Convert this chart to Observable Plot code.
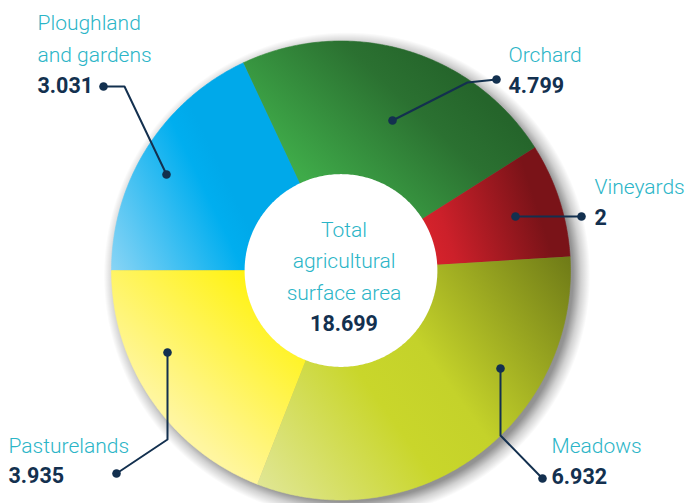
<!DOCTYPE html>
<html>
<head>
<meta charset="utf-8">
<script src="https://cdn.jsdelivr.net/npm/d3@7"></script>
<script src="https://cdn.jsdelivr.net/npm/@observablehq/plot@0.6"></script>
<style>
  html, body { margin: 0; padding: 0; background: #ffffff; }
  #chart { width: 690px; height: 503px; }
</style>
</head>
<body>
<div id="chart"></div>
<script>
// ---------------- DATA ----------------
const categories = ["Ploughland\nand gardens", "Orchard", "Vineyards", "Meadows", "Pasturelands"];
const values = [3.031, 4.799, 2, 6.932, 3.935];
// slice sizes as drawn in the picture (degrees)
const sliceShares = [64.8, 82.8, 28.9, 114.9, 68.6];
const totalLines = "Total\nagricultural\nsurface area";
const totalValue = 18.699;

// ---------------- STYLE / LAYOUT ----------------
const W = 690, H = 503;
const CX = 340.5, CY = 270, RPX = 229.5;     // ring centre and radius in pixels
const INNER = 0.418;                          // inner radius (fraction of outer)
const START = 270;                            // first slice starts at 9 o'clock, clockwise
const SHADOW_R = 1.06;                        // soft shadow extent (fraction of outer radius)
// per-slice shading: gradient vector (unit coords) and colour stops
const shading = [
  {from: [-1.0, -0.15], to: [-0.38, 0.15], stops: [[0, "#9ad9f6"], [0.85, "#00aeef"], [1, "#00a9ea"]]},
  {from: [-0.3, 0.3],   to: [0.35, 1.0],   stops: [[0, "#41ae4b"], [0.18, "#3fab49"], [0.75, "#2b7131"], [1, "#25652b"]]},
  {from: [0.42, 0.05],  to: [0.88, 0.2],   stops: [[0, "#d4222b"], [0.15, "#cc202a"], [1, "#7a1318"]]},
  {from: [-0.45, -1.0], to: [1.0, 0.05],   stops: [[0, "#e4e9a6"], [0.42, "#c9d62b"], [0.58, "#c4d22a"], [1, "#6f7b17"]]},
  {from: [-1.0, -0.75], to: [-0.3, 0.0],   stops: [[0, "#fffab9"], [0.25, "#fff6a0"], [1, "#fff200"]]}
];
const labelColor = "#2bb5c7", valueColor = "#13304f";
const FONT = "Roboto, 'Noto Sans', sans-serif";
// annotation placement in pixels: label x, label-baseline, value-baseline, leader polyline
const labelLayout = [
  {x: 37,  ly: 61,  vy: 92,  leader: [[103, 86], [124, 86], [166, 174]]},
  {x: 508, ly: 61,  vy: 92,  leader: [[496, 79], [467, 82], [392, 120]]},
  {x: 594, ly: 193, vy: 224, leader: [[581, 216], [515, 216]]},
  {x: 551, ly: 452, vy: 483, leader: [[542, 478], [500, 435], [500, 368]]},
  {x: 8,   ly: 452, vy: 482, leader: [[116, 473], [167, 439], [167, 352]]}
];
const centerLayout = {x: 343.5, ly: 299, vy: 330};

// pixel <-> unit coordinates (same mapping the scales use)
const ux = px => (px - CX) / RPX;
const uy = py => (CY - py) / RPX;
const polar = (deg, r) => ({x: r * Math.sin(deg * Math.PI / 180), y: r * Math.cos(deg * Math.PI / 180)});

// ---------------- GEOMETRY FROM DATA ----------------
const shareSum = d3.sum(sliceShares);
let acc = START;
const slices = categories.map((c, i) => {
  const a0 = acc;
  acc += sliceShares[i] / shareSum * 360;
  const a1 = acc;
  const n = Math.max(2, Math.ceil((a1 - a0) / 0.5));
  const pts = [];
  for (let k = 0; k <= n; k++) pts.push({key: c, ...polar(a0 + (a1 - a0) * k / n, 1)});
  for (let k = n; k >= 0; k--) pts.push({key: c, ...polar(a0 + (a1 - a0) * k / n, INNER)});
  return {c, i, a0, a1, pts};
});
const circle = r => d3.range(0, 361, 1).map(a => polar(a, r));

const leaderPts = labelLayout.flatMap((l, i) => l.leader.map(([px, py]) => ({key: i, x: ux(px), y: uy(py)})));
const leaderDots = labelLayout.flatMap((l, i) => [l.leader[0], l.leader[l.leader.length - 1]].map(([px, py]) => ({x: ux(px), y: uy(py)})));
const labelRows = categories.map((c, i) => ({text: c, x: ux(labelLayout[i].x), y: uy(labelLayout[i].ly)}));
const valueRows = values.map((v, i) => ({text: String(v), x: ux(labelLayout[i].x), y: uy(labelLayout[i].vy)}));

// ---------------- DEFS (gradients) ----------------
function defsMark(index, scales) {
  const sx = scales && scales.x ? scales.x : (u => CX + u * RPX);
  const sy = scales && scales.y ? scales.y : (u => CY - u * RPX);
  const ns = "http://www.w3.org/2000/svg";
  const defs = document.createElementNS(ns, "defs");
  const addStops = (g, stops) => stops.forEach(([o, c, op]) => {
    const s = document.createElementNS(ns, "stop");
    s.setAttribute("offset", o); s.setAttribute("stop-color", c);
    if (op != null) s.setAttribute("stop-opacity", op);
    g.appendChild(s);
  });
  shading.forEach((p, i) => {
    const g = document.createElementNS(ns, "linearGradient");
    g.setAttribute("id", "grad" + i);
    g.setAttribute("gradientUnits", "userSpaceOnUse");
    g.setAttribute("x1", sx(p.from[0])); g.setAttribute("y1", sy(p.from[1]));
    g.setAttribute("x2", sx(p.to[0]));   g.setAttribute("y2", sy(p.to[1]));
    addStops(g, p.stops);
    defs.appendChild(g);
  });
  const rg = document.createElementNS(ns, "radialGradient");
  rg.setAttribute("id", "shadowGrad");
  rg.setAttribute("gradientUnits", "userSpaceOnUse");
  rg.setAttribute("cx", sx(0)); rg.setAttribute("cy", sy(0));
  rg.setAttribute("r", sx(SHADOW_R) - sx(0));
  addStops(rg, [[0, "#000", 0.5], [0.9 / SHADOW_R, "#000", 0.5], [0.985 / SHADOW_R, "#000", 0.42],
                [1.02 / SHADOW_R, "#000", 0.18], [1, "#000", 0]]);
  defs.appendChild(rg);
  return defs;
}

// ---------------- PLOT ----------------
const plot = Plot.plot({
  width: W, height: H,
  margin: 0,
  x: {domain: [ux(0), ux(W)], axis: null},
  y: {domain: [uy(H), uy(0)], axis: null},
  style: {background: "#ffffff", overflow: "visible"},
  marks: [
    defsMark,
    Plot.line(circle(SHADOW_R), {x: "x", y: "y", fill: "url(#shadowGrad)", stroke: "none", dx: 6, dy: 5}),
    ...slices.map(s => Plot.line(s.pts, {x: "x", y: "y", fill: `url(#grad${s.i})`, stroke: `url(#grad${s.i})`, strokeWidth: 0.6, curve: "linear"})),
    Plot.line(circle(INNER + 0.002), {x: "x", y: "y", fill: "#ffffff", stroke: "none"}),
    Plot.line(leaderPts, {x: "x", y: "y", z: "key", stroke: valueColor, strokeWidth: 2, curve: "linear"}),
    Plot.dot(leaderDots, {x: "x", y: "y", r: 4.3, fill: valueColor, stroke: "none"}),
    Plot.text(labelRows, {x: "x", y: "y", text: "text", textAnchor: "start", lineAnchor: "bottom", lineHeight: 32 / 21,
      fontSize: 21, fontFamily: FONT, fontWeight: 300, fill: labelColor}),
    Plot.text(valueRows, {x: "x", y: "y", text: "text", textAnchor: "start", lineAnchor: "bottom",
      fontSize: 21.5, fontFamily: FONT, fontWeight: 700, fill: valueColor}),
    Plot.text([{text: totalLines, x: ux(centerLayout.x), y: uy(centerLayout.ly)}], {x: "x", y: "y", text: "text", textAnchor: "middle",
      lineAnchor: "bottom", lineHeight: 31.5 / 21, fontSize: 21, fontFamily: FONT, fontWeight: 300, fill: labelColor}),
    Plot.text([{text: String(totalValue), x: ux(centerLayout.x), y: uy(centerLayout.vy)}], {x: "x", y: "y", text: "text", textAnchor: "middle",
      lineAnchor: "bottom", fontSize: 21.5, fontFamily: FONT, fontWeight: 700, fill: valueColor})
  ]
});
document.getElementById("chart").appendChild(plot);
</script>
</body>
</html>
